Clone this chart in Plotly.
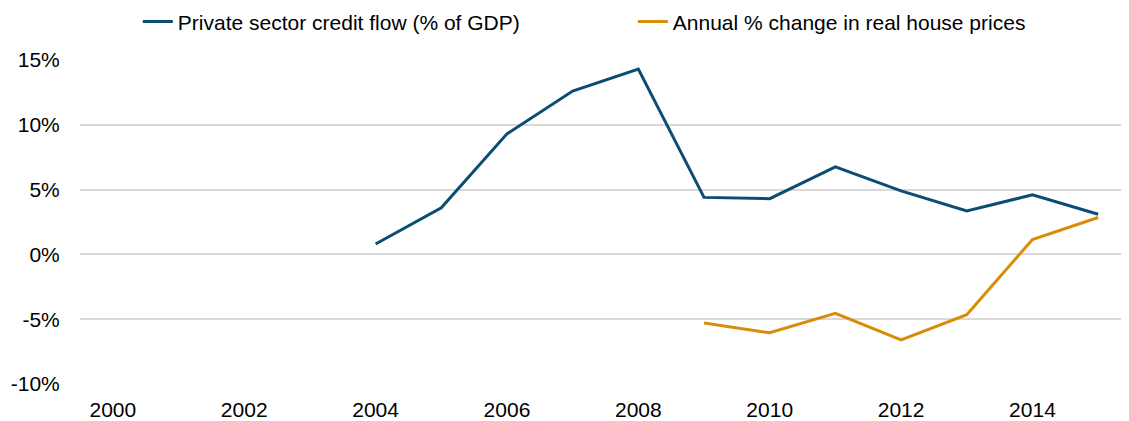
import plotly.graph_objects as go

# chart data
years = [str(y) for y in range(2000, 2016)]
credit_flow = [None, None, None, None, 0.8, 3.6, 9.3, 12.6, 14.3, 4.4,
               4.3, 6.75, 4.9, 3.35, 4.6, 3.1]
house_prices = [None] * 9 + [-5.3, -6.05, -4.55, -6.6, -4.65, 1.15, 2.85]
y_ticks = [-10, -5, 0, 5, 10, 15]
y_labels = ["-10%", "-5%", "0%", "5%", "10%", "15%"]

font = "Liberation Sans, Arial, sans-serif"

fig = go.Figure()
fig.add_trace(go.Scatter(
    x=years, y=credit_flow, mode="lines",
    name="Private sector credit flow (% of GDP)",
    line=dict(color="#0b4d72", width=3),
))
fig.add_trace(go.Scatter(
    x=years, y=house_prices, mode="lines",
    name="Annual % change in real house prices",
    line=dict(color="#d88c0a", width=3),
))

# page body adds an 8px offset, so margins are trimmed to compensate
fig.update_layout(
    width=1129, height=421,
    margin=dict(l=72, r=6, t=52, b=45),
    plot_bgcolor="white", paper_bgcolor="white",
    font=dict(family=font, size=21, color="#000000"),
    showlegend=True,
    legend=dict(orientation="h", xref="paper", x=0.526, xanchor="center",
                yref="container", y=0.967, yanchor="middle",
                entrywidth=450, font=dict(size=21)),
)
fig.update_xaxes(
    type="category", range=[-0.5, 15.5], showgrid=False, showline=False,
    zeroline=False, tickvals=years[::2], ticks="outside", ticklen=7,
    tickcolor="white", automargin=False,
)
fig.update_yaxes(
    range=[-10, 15], tickvals=y_ticks, ticktext=y_labels,
    showgrid=True, gridcolor="#d9d9d9", gridwidth=1.5,
    zeroline=False, ticks="outside", ticklen=15, tickcolor="white",
    automargin=False,
)

fig.write_html("out.html")
